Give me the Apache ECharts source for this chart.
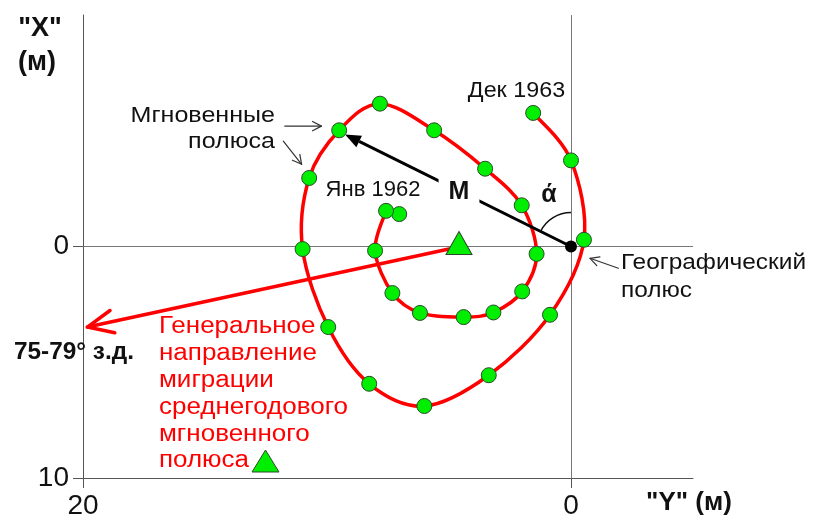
<!DOCTYPE html>
<html><head><meta charset="utf-8">
<script src="https://cdn.jsdelivr.net/npm/echarts@6/dist/echarts.min.js"></script>
<style>html,body{margin:0;padding:0;background:#fff}#main{width:816px;height:520px}</style>
</head><body><div id="main"></div>
<script>
// Monthly instantaneous pole positions, Jan 1962 – Dec 1963 (metres)
const poleY = [7.04, 7.58, 8.03, 7.32, 6.19, 4.40, 3.18, 2.00, 1.41, 2.02, 3.52, 5.61,
               7.83, 9.50, 10.73, 11.00, 9.95, 8.27, 6.01, 3.37, 0.86, -0.53, 0.00, 1.55];
const poleX = [-1.40, -1.54, 0.18, 2.01, 2.87, 3.05, 2.85, 1.94, 0.32, -1.78, -3.36, -5.02,
               -6.17, -5.02, -2.96, 0.11, 3.48, 5.93, 6.89, 5.56, 2.95, -0.29, -3.72, -5.77];
const geoPole = [0, 0];
const meanPole = [4.59, -0.15];
const arrowM = [0, 0, 9.26, -4.84];
const arrowTrend = [5.0, 0.11, 19.82, 3.48];
const pointerArrows = [[11.73, -5.20, 10.23, -5.20], [11.79, -4.55, 11.04, -3.55], [-1.94, 0.94, -0.78, 0.51]];
const yTickValues = [20, 0];   // horizontal "Y" axis labels
const xTickValues = [0, 10];   // vertical "X" axis labels

const FONT = '"Liberation Sans", Arial, sans-serif';
const chart = echarts.init(document.getElementById('main'));
const pts = poleY.map((y, i) => [y, poleX[i]]);
const curvePts = pts.slice(1);

function arrowRender(opts) {
  return function (params, api) {
    const p1 = api.coord([api.value(0), api.value(1)]);
    const p2 = api.coord([api.value(2), api.value(3)]);
    const dx = p2[0] - p1[0], dy = p2[1] - p1[1];
    const L = Math.hypot(dx, dy), ux = dx / L, uy = dy / L;
    const a = opts.angle * Math.PI / 180, h = opts.head;
    const rot = (s) => [-(ux * Math.cos(s * a) - uy * Math.sin(s * a)) * h,
                        -(ux * Math.sin(s * a) + uy * Math.cos(s * a)) * h];
    const r1 = rot(1), r2 = rot(-1);
    const A = [p2[0] + r1[0], p2[1] + r1[1]], B = [p2[0] + r2[0], p2[1] + r2[1]];
    const children = [];
    if (opts.filled) {
      const base = [p2[0] - ux * h * Math.cos(a), p2[1] - uy * h * Math.cos(a)];
      children.push({type: 'line', shape: {x1: p1[0], y1: p1[1], x2: base[0], y2: base[1]},
        style: {stroke: opts.color, lineWidth: opts.width}});
      children.push({type: 'polygon', shape: {points: [p2, A, B]}, style: {fill: opts.color}});
    } else {
      children.push({type: 'line', shape: {x1: p1[0], y1: p1[1], x2: p2[0], y2: p2[1]},
        style: {stroke: opts.color, lineWidth: opts.width, lineCap: 'round'}});
      children.push({type: 'polyline', shape: {points: [A, p2, B]},
        style: {stroke: opts.color, lineWidth: opts.width, fill: null, lineCap: 'round', lineJoin: 'round'}});
    }
    return {type: 'group', children: children};
  };
}

function arcRender(params, api) {
  const c = api.coord([api.value(0), api.value(1)]);
  const p = api.coord([api.value(2), api.value(3)]);
  const ang = Math.atan2(p[1] - c[1], p[0] - c[0]);
  return {type: 'arc', shape: {cx: c[0], cy: c[1], r: 34, startAngle: ang, endAngle: -Math.PI / 2, clockwise: true},
    style: {stroke: '#111', lineWidth: 1.5, fill: null}};
}

// Catmull-Rom smooth curve segment i -> i+1 through the pole positions
function curveRender(params, api) {
  const i = params.dataIndex, n = curvePts.length;
  if (i >= n - 1) return null;
  const c = (k) => api.coord(curvePts[Math.max(0, Math.min(n - 1, k))]);
  const p0 = c(i - 1), p1 = c(i), p2 = c(i + 1), p3 = c(i + 2);
  const t = 1 / 6;
  return {type: 'bezierCurve',
    shape: {x1: p1[0], y1: p1[1], x2: p2[0], y2: p2[1],
      cpx1: p1[0] + (p2[0] - p0[0]) * t, cpy1: p1[1] + (p2[1] - p0[1]) * t,
      cpx2: p2[0] - (p3[0] - p1[0]) * t, cpy2: p2[1] - (p3[1] - p1[1]) * t},
    style: {stroke: '#ff0000', lineWidth: 3.5, fill: null, lineCap: 'round'}};
}

const axisCommon = {
  type: 'value',
  inverse: true,
  axisLine: {show: true, onZero: false, lineStyle: {color: '#555', width: 1}},
  axisTick: {show: true, length: 10, lineStyle: {color: '#555', width: 1}},
  axisLabel: {fontSize: 28, color: '#111', fontFamily: FONT, margin: 14},
  splitLine: {show: false}
};

function txt(text, x, y, o) {
  return Object.assign({type: 'text', x: x, y: y, z: 100,
    style: Object.assign({text: text, fontFamily: FONT, fontSize: 22, fill: '#111',
      textAlign: 'left', textVerticalAlign: 'middle'}, o.style || {})}, o.el || {});
}

const option = {
  animation: false,
  grid: {left: 83, right: 123, top: 15, bottom: 40},
  xAxis: Object.assign({}, axisCommon, {
    min: -5, max: 20,
    axisTick: Object.assign({}, axisCommon.axisTick, {customValues: yTickValues}),
    axisLabel: Object.assign({}, axisCommon.axisLabel, {customValues: yTickValues})
  }),
  yAxis: Object.assign({}, axisCommon, {
    min: -10, max: 10,
    axisTick: Object.assign({}, axisCommon.axisTick, {customValues: xTickValues}),
    axisLabel: Object.assign({}, axisCommon.axisLabel, {customValues: xTickValues})
  }),
  series: [
    {
      type: 'line', data: [], showSymbol: false, z: 1,
      markLine: {
        silent: true, symbol: ['none', 'none'], label: {show: false}, z: 1,
        lineStyle: {color: '#777', width: 1, type: 'solid'},
        emphasis: {disabled: true},
        data: [{xAxis: 0}, {yAxis: 0}]
      }
    },
    {
      type: 'custom', data: curvePts, z: 3, encode: {x: 0, y: 1},
      renderItem: curveRender
    },
    {
      type: 'custom', data: [arrowTrend], z: 2, encode: {x: [0, 2], y: [1, 3]},
      renderItem: arrowRender({color: '#ff0000', width: 3.5, head: 28, angle: 24, filled: false})
    },
    {
      type: 'custom', data: [arrowM], z: 4, encode: {x: [0, 2], y: [1, 3]},
      renderItem: arrowRender({color: '#000', width: 3, head: 17, angle: 22, filled: true})
    },
    {
      type: 'custom', data: [arrowM], z: 4, encode: {x: [0, 2], y: [1, 3]},
      renderItem: arcRender
    },
    {
      type: 'custom', data: pointerArrows, z: 4, encode: {x: [0, 2], y: [1, 3]},
      renderItem: arrowRender({color: '#333', width: 1.2, head: 10, angle: 28, filled: false})
    },
    {
      type: 'scatter', data: pts, symbol: 'circle', symbolSize: 15, z: 6,
      itemStyle: {color: '#00ee00', borderColor: '#2b4a2b', borderWidth: 1, opacity: 1}
    },
    {
      type: 'scatter', data: [meanPole], symbol: 'triangle', symbolSize: [26, 23], z: 6,
      itemStyle: {color: '#00ee00', borderColor: '#2b4a2b', borderWidth: 1, opacity: 1}
    },
    {
      type: 'scatter', data: [geoPole], symbol: 'circle', symbolSize: 12, z: 7,
      itemStyle: {color: '#000', opacity: 1}
    }
  ],
  graphic: [
    txt('"X"', 40, 29, {style: {fontWeight: 'bold', fontSize: 27, textAlign: 'center'}}),
    txt('(м)', 37, 63, {style: {fontWeight: 'bold', fontSize: 27, textAlign: 'center'}}),
    txt('"Y" (м)', 689, 503, {style: {fontWeight: 'bold', fontSize: 26, textAlign: 'center'}}),
    txt('Мгновенные', 275, 115.6, {style: {textAlign: 'right'}, el: {scaleX: 1.14}}),
    txt('полюса', 275, 142.3, {style: {textAlign: 'right'}, el: {scaleX: 1.14}}),
    txt('Дек 1963', 516.5, 91, {style: {textAlign: 'center'}, el: {scaleX: 1.06}}),
    txt('Янв 1962', 373, 189.5, {style: {textAlign: 'center'}, el: {scaleX: 1.0}}),
    txt('Географический', 621, 263.3, {el: {scaleX: 1.11}}),
    txt('полюс', 621, 290.6, {el: {scaleX: 1.11}}),
    txt('75-79° з.д.', 74, 353, {style: {fontWeight: 'bold', fontSize: 23, textAlign: 'center'}, el: {scaleX: 1.06}}),
    txt('M', 459, 192, {style: {fontWeight: 'bold', fontSize: 25, textAlign: 'center',
      backgroundColor: '#fff', padding: [2, 10, 2, 10]}}),
    txt('ά', 549, 195, {style: {fontWeight: 'bold', fontSize: 25, textAlign: 'center'}}),
    txt('Генеральное\nнаправление\nмиграции\nсреднегодового\nмгновенного\nполюса', 159, 313.6,
      {style: {fontSize: 23, fill: '#ff0000', textVerticalAlign: 'top', lineHeight: 26.8}, el: {scaleX: 1.13}}),
    {type: 'polygon', z: 100, shape: {points: [[252, 472], [265.5, 450], [279, 472]]},
      style: {fill: '#00ee00', stroke: '#2b4a2b', lineWidth: 1}}
  ]
};
chart.setOption(option);
</script>
</body></html>
